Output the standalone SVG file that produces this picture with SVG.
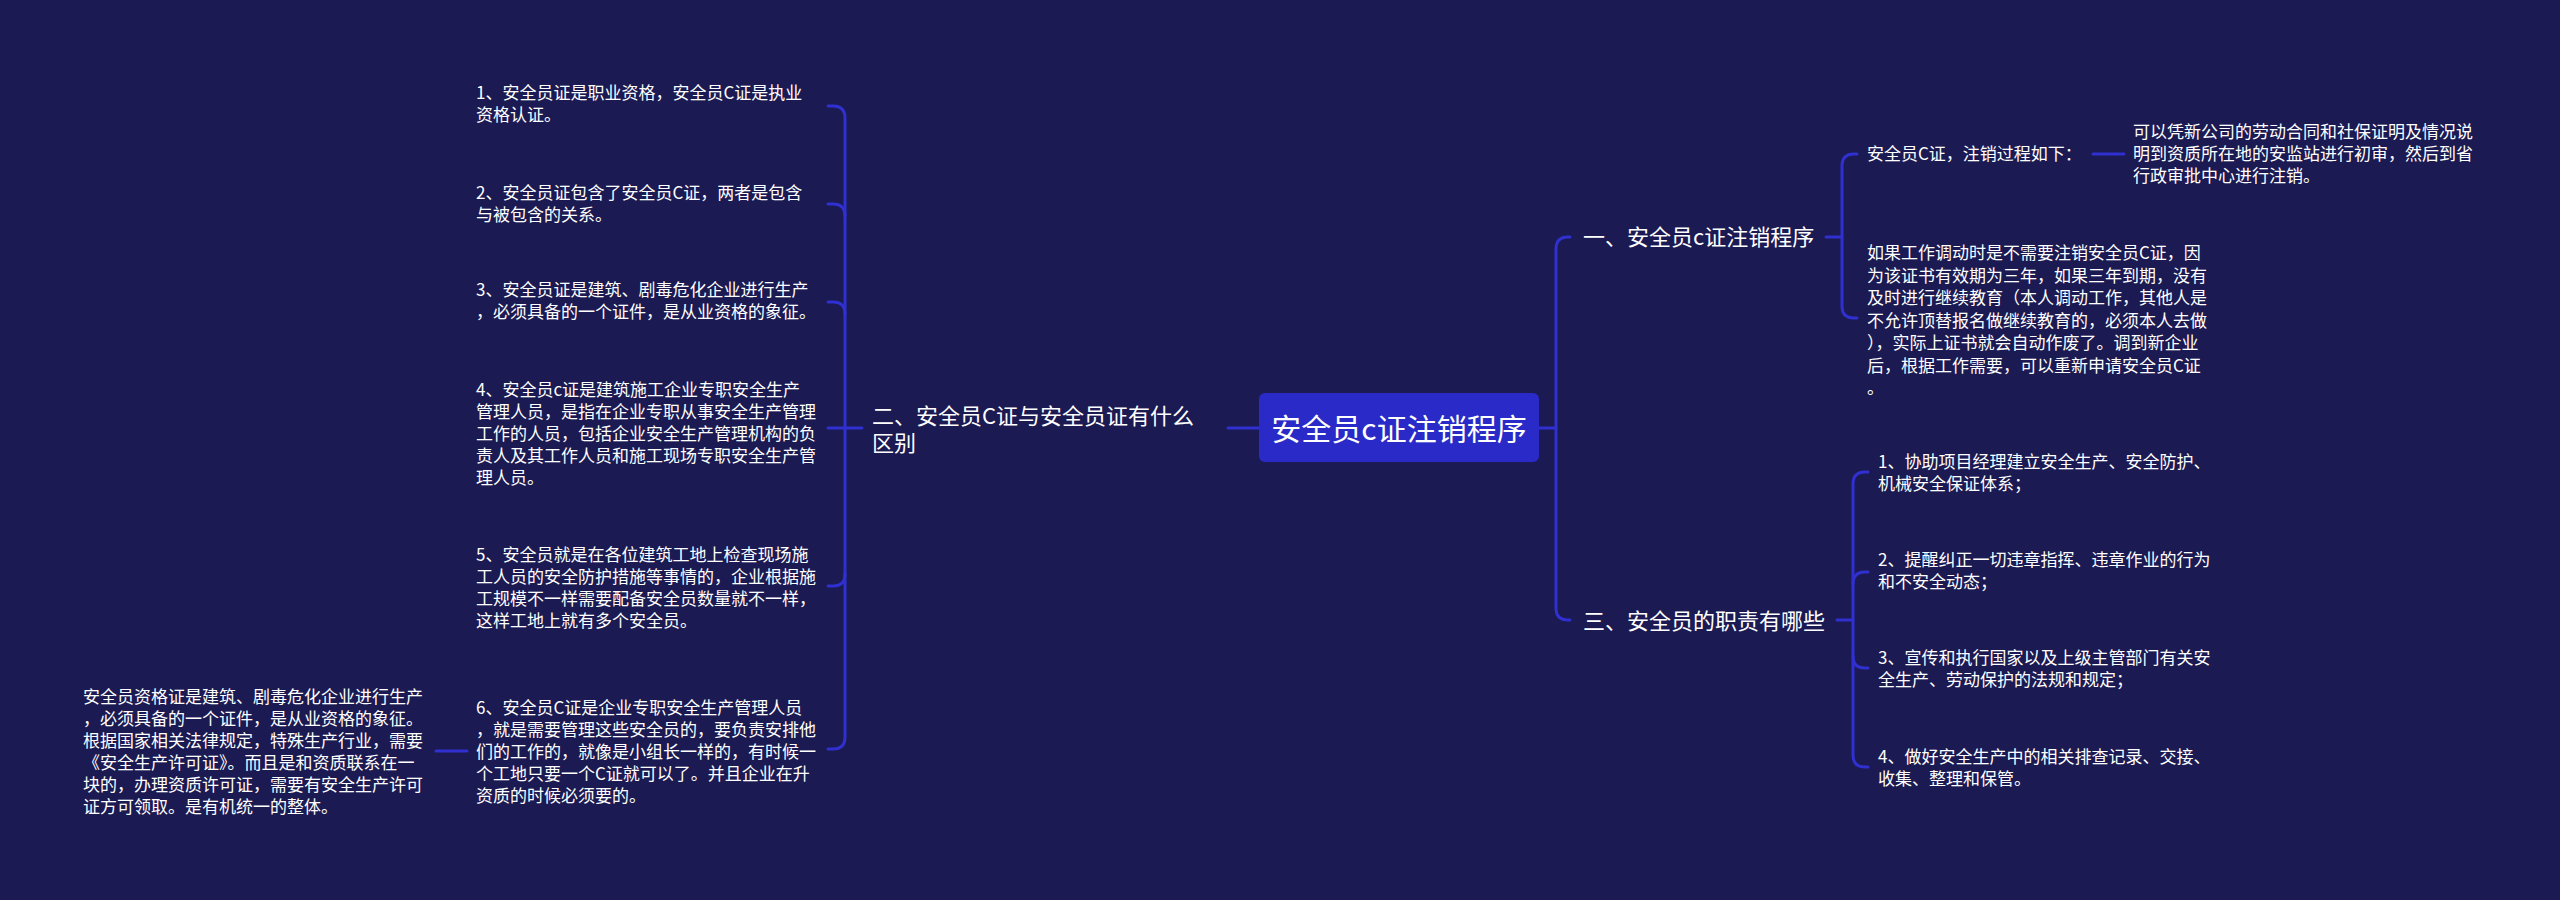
<svg xmlns="http://www.w3.org/2000/svg" width="2560" height="900" viewBox="0 0 2560 900">
<style>
text{font-family:"Noto Sans CJK SC","Noto Sans",sans-serif;fill:#ffffff;}
.leaf{font-size:17px;}
.main{font-size:22px;}
.root{font-size:30px;}
.ln{fill:none;stroke:#3030d0;stroke-width:3;stroke-linecap:round;}
</style>
<rect x="0" y="0" width="2560" height="900" fill="#1b1a52"/>
<g id="connectors">
<path class="ln" d="M1259,428 H1228"/>
<path class="ln" d="M862,428 H845"/>
<path class="ln" d="M828,106 H833 Q845,106 845,118 V737 Q845,749 833,749 H828"/>
<path class="ln" d="M828,204 H833 Q845,204 845,216"/>
<path class="ln" d="M828,302 H833 Q845,302 845,314"/>
<path class="ln" d="M828,428 H845"/>
<path class="ln" d="M828,586 H833 Q845,586 845,574"/>
<path class="ln" d="M467,751 H436"/>
<path class="ln" d="M1539,428 H1556"/>
<path class="ln" d="M1570,237 H1568 Q1556,237 1556,249 V608 Q1556,620 1568,620 H1570"/>
<path class="ln" d="M1826,237 H1842"/>
<path class="ln" d="M1857,154 H1854 Q1842,154 1842,166 V306 Q1842,318 1854,318 H1857"/>
<path class="ln" d="M2093,154 H2124"/>
<path class="ln" d="M1837,620 H1853"/>
<path class="ln" d="M1868,472 H1865 Q1853,472 1853,484 V755 Q1853,767 1865,767 H1868"/>
<path class="ln" d="M1868,572 H1865 Q1853,572 1853,584"/>
<path class="ln" d="M1868,668 H1865 Q1853,668 1853,656"/>
</g>
<g id="root">
<rect x="1259" y="393" width="280" height="69" rx="6" fill="#2a2ac8"/>
<text class="root" x="1399" y="440" text-anchor="middle">安全员c证注销程序</text>
</g>
<g id="n2">
<text class="main" x="872" y="424">二、安全员C证与安全员证有什么</text>
<text class="main" x="872" y="451">区别</text>
</g>
<g id="n2-1">
<text class="leaf" x="476" y="99">1、安全员证是职业资格，安全员C证是执业</text>
<text class="leaf" x="476" y="121">资格认证。</text>
</g>
<g id="n2-2">
<text class="leaf" x="476" y="199">2、安全员证包含了安全员C证，两者是包含</text>
<text class="leaf" x="476" y="221">与被包含的关系。</text>
</g>
<g id="n2-3">
<text class="leaf" x="476" y="296">3、安全员证是建筑、剧毒危化企业进行生产</text>
<text class="leaf" x="476" y="318">，必须具备的一个证件，是从业资格的象征。</text>
</g>
<g id="n2-4">
<text class="leaf" x="476" y="396">4、安全员c证是建筑施工企业专职安全生产</text>
<text class="leaf" x="476" y="418">管理人员，是指在企业专职从事安全生产管理</text>
<text class="leaf" x="476" y="440">工作的人员，包括企业安全生产管理机构的负</text>
<text class="leaf" x="476" y="462">责人及其工作人员和施工现场专职安全生产管</text>
<text class="leaf" x="476" y="484">理人员。</text>
</g>
<g id="n2-5">
<text class="leaf" x="476" y="561">5、安全员就是在各位建筑工地上检查现场施</text>
<text class="leaf" x="476" y="583">工人员的安全防护措施等事情的，企业根据施</text>
<text class="leaf" x="476" y="605">工规模不一样需要配备安全员数量就不一样，</text>
<text class="leaf" x="476" y="627">这样工地上就有多个安全员。</text>
</g>
<g id="n2-6">
<text class="leaf" x="476" y="714">6、安全员C证是企业专职安全生产管理人员</text>
<text class="leaf" x="476" y="736">，就是需要管理这些安全员的，要负责安排他</text>
<text class="leaf" x="476" y="758">们的工作的，就像是小组长一样的，有时候一</text>
<text class="leaf" x="476" y="780">个工地只要一个C证就可以了。并且企业在升</text>
<text class="leaf" x="476" y="802">资质的时候必须要的。</text>
</g>
<g id="n2-6-1">
<text class="leaf" x="83" y="703">安全员资格证是建筑、剧毒危化企业进行生产</text>
<text class="leaf" x="83" y="725">，必须具备的一个证件，是从业资格的象征。</text>
<text class="leaf" x="83" y="747">根据国家相关法律规定，特殊生产行业，需要</text>
<text class="leaf" x="83" y="769">《安全生产许可证》。而且是和资质联系在一</text>
<text class="leaf" x="83" y="791">块的，办理资质许可证，需要有安全生产许可</text>
<text class="leaf" x="83" y="813">证方可领取。是有机统一的整体。</text>
</g>
<g id="n1">
<text class="main" x="1583" y="245">一、安全员c证注销程序</text>
</g>
<g id="n1-1">
<text class="leaf" x="1867" y="160">安全员C证，注销过程如下：</text>
</g>
<g id="n1-1-1">
<text class="leaf" x="2133" y="138">可以凭新公司的劳动合同和社保证明及情况说</text>
<text class="leaf" x="2133" y="160">明到资质所在地的安监站进行初审，然后到省</text>
<text class="leaf" x="2133" y="182">行政审批中心进行注销。</text>
</g>
<g id="n1-2">
<text class="leaf" x="1867" y="259">如果工作调动时是不需要注销安全员C证，因</text>
<text class="leaf" x="1867" y="281.5">为该证书有效期为三年，如果三年到期，没有</text>
<text class="leaf" x="1867" y="304">及时进行继续教育（本人调动工作，其他人是</text>
<text class="leaf" x="1867" y="326.5">不允许顶替报名做继续教育的，必须本人去做</text>
<text class="leaf" x="1867" y="349">），实际上证书就会自动作废了。调到新企业</text>
<text class="leaf" x="1867" y="371.5">后，根据工作需要，可以重新申请安全员C证</text>
<text class="leaf" x="1867" y="394">。</text>
</g>
<g id="n3">
<text class="main" x="1583" y="629">三、安全员的职责有哪些</text>
</g>
<g id="n3-1">
<text class="leaf" x="1878" y="468">1、协助项目经理建立安全生产、安全防护、</text>
<text class="leaf" x="1878" y="490">机械安全保证体系；</text>
</g>
<g id="n3-2">
<text class="leaf" x="1878" y="566">2、提醒纠正一切违章指挥、违章作业的行为</text>
<text class="leaf" x="1878" y="588">和不安全动态；</text>
</g>
<g id="n3-3">
<text class="leaf" x="1878" y="664">3、宣传和执行国家以及上级主管部门有关安</text>
<text class="leaf" x="1878" y="686">全生产、劳动保护的法规和规定；</text>
</g>
<g id="n3-4">
<text class="leaf" x="1878" y="763">4、做好安全生产中的相关排查记录、交接、</text>
<text class="leaf" x="1878" y="785">收集、整理和保管。</text>
</g>
</svg>
